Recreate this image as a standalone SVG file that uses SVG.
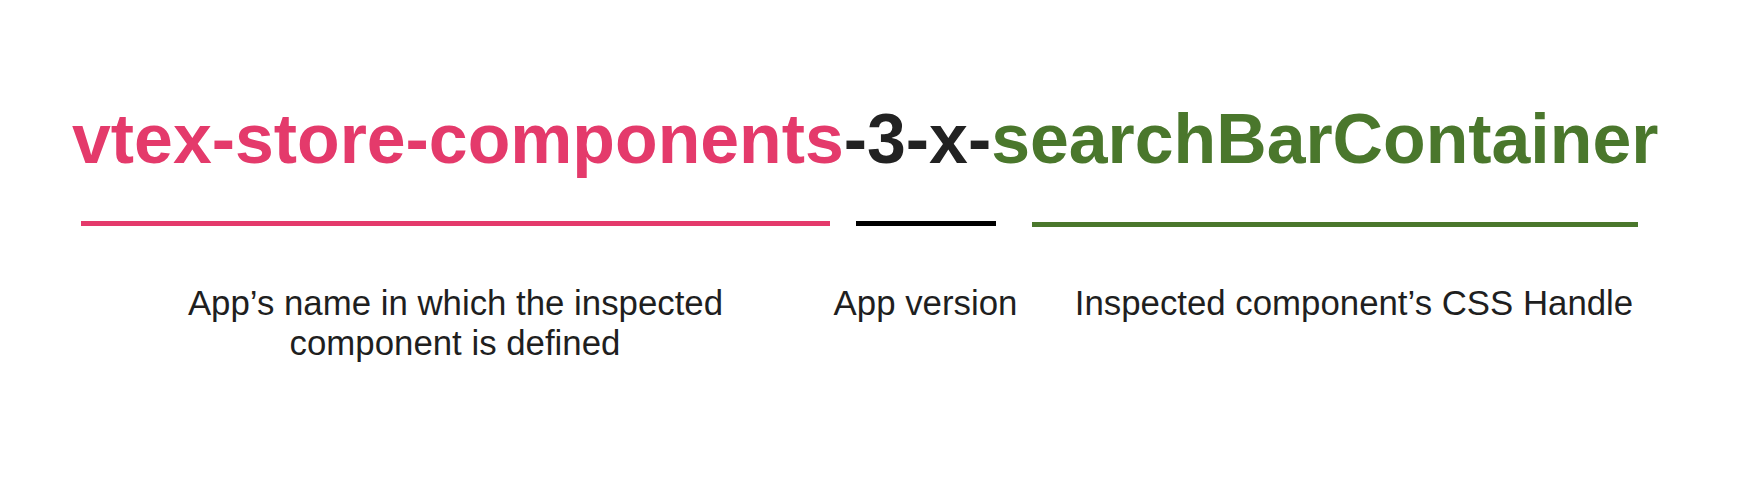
<svg xmlns="http://www.w3.org/2000/svg" width="1740" height="490" viewBox="0 0 1740 490">
  <style>
    .title { font-family: "Liberation Sans", Arial, Helvetica, sans-serif; font-weight: bold; font-size: 69.8px; }
    .label { font-family: "Liberation Sans", Arial, Helvetica, sans-serif; font-size: 34.8px; fill: #1f1f1f; text-anchor: middle; }
    .red { fill: #E43A6B; }
    .dark { fill: #222222; }
    .green { fill: #4A772C; }
  </style>
  <rect width="1740" height="490" fill="#ffffff"/>
  <g id="title">
    <text class="title" x="72" y="163"><tspan class="red">vtex-store-components</tspan><tspan class="dark">-3-x-</tspan><tspan class="green">searchBarContainer</tspan></text>
  </g>
  <g id="connectors">
    <rect x="81" y="221" width="749" height="5" fill="#E43A6B"/>
    <rect x="856" y="221" width="140" height="5" fill="#000000"/>
    <rect x="1032" y="222" width="606" height="5" fill="#4A772C"/>
  </g>
  <g id="label-app-name">
    <text class="label" x="455.5" y="315">App’s name in which the inspected</text>
    <text class="label" x="455" y="355">component is defined</text>
  </g>
  <g id="label-app-version">
    <text class="label" x="925.5" y="315">App version</text>
  </g>
  <g id="label-css-handle">
    <text class="label" x="1354" y="315">Inspected component’s CSS Handle</text>
  </g>
</svg>
